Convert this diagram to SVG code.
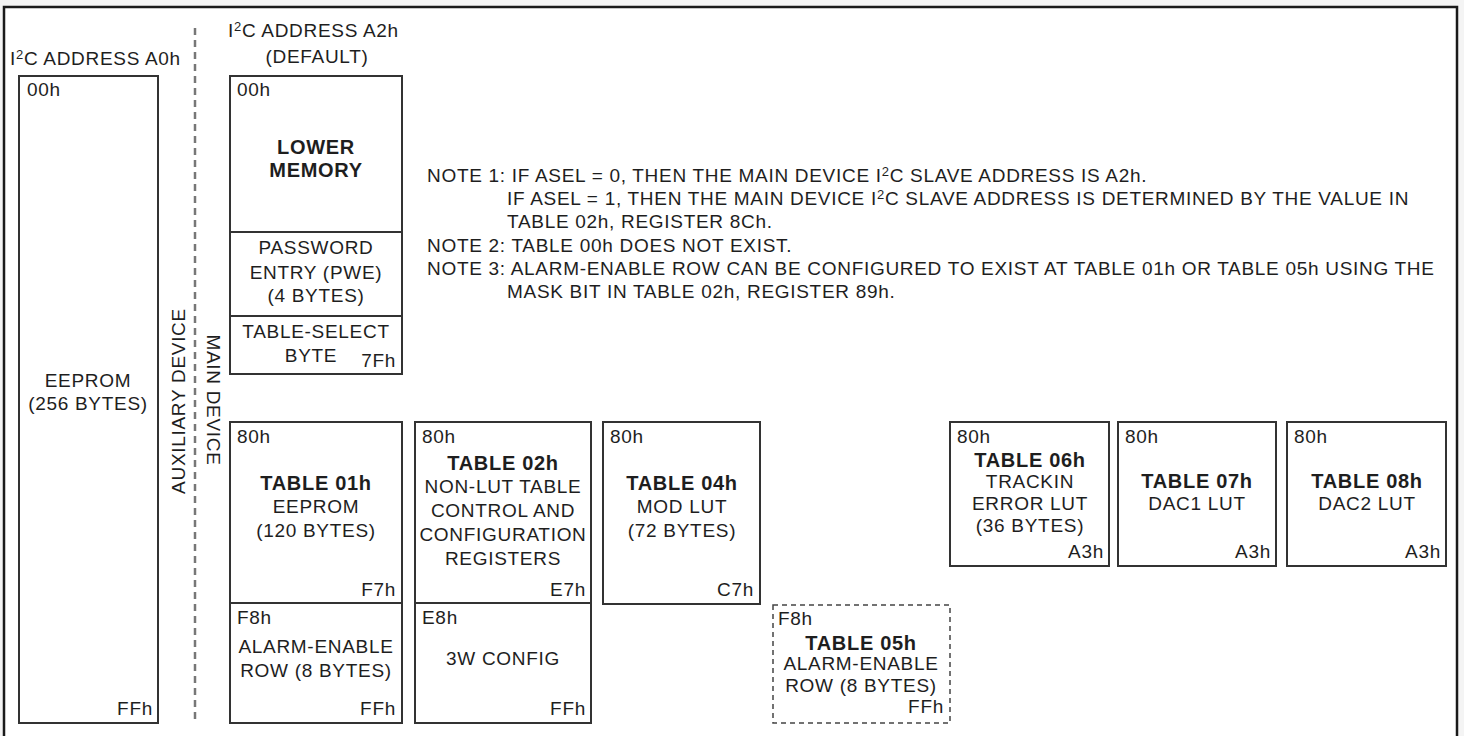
<svg xmlns="http://www.w3.org/2000/svg" width="1464" height="736" viewBox="0 0 1464 736">
<style>
text{font-family:"Liberation Sans",Arial,sans-serif;fill:#1e1e1e;font-size:19px;letter-spacing:0.7px}
.b{font-weight:bold;font-size:20px}
.m{text-anchor:middle}
.r{text-anchor:end}
.box{fill:#fff;stroke:#333;stroke-width:2}
.div{stroke:#333;stroke-width:2}
.sup{font-size:13px}
</style>
<rect x="0" y="0" width="1464" height="736" fill="#f4f4f4"/>
<rect x="4" y="7" width="1453" height="740" fill="#fff" stroke="#1a1a1a" stroke-width="2.5"/>

<g id="headers">
<text x="10" y="65">I<tspan class="sup" dy="-6">2</tspan><tspan dy="6">C ADDRESS A0h</tspan></text>
<text x="228" y="37">I<tspan class="sup" dy="-6">2</tspan><tspan dy="6">C ADDRESS A2h</tspan></text>
<text class="m" x="317" y="63">(DEFAULT)</text>
</g>

<g id="divider">
<line x1="195" y1="28" x2="195" y2="723" stroke="#777" stroke-width="2.5" stroke-dasharray="7 5"/>
<text class="m" transform="translate(185,401) rotate(-90)">AUXILIARY DEVICE</text>
<text class="m" transform="translate(207,400) rotate(90)">MAIN DEVICE</text>
</g>

<g id="eeprom-a0">
<rect class="box" x="19" y="76" width="139" height="647"/>
<text x="27" y="96">00h</text>
<text class="m" x="88" y="387">EEPROM</text>
<text class="m" x="88" y="410">(256 BYTES)</text>
<text class="r" x="153" y="715">FFh</text>
</g>

<g id="lower-memory">
<rect class="box" x="230" y="76" width="172" height="298"/>
<line class="div" x1="230" y1="232" x2="402" y2="232"/>
<line class="div" x1="230" y1="316" x2="402" y2="316"/>
<text x="237" y="96">00h</text>
<text class="m b" x="316" y="154">LOWER</text>
<text class="m b" x="316" y="177">MEMORY</text>
<text class="m" x="316" y="254">PASSWORD</text>
<text class="m" x="316" y="279">ENTRY (PWE)</text>
<text class="m" x="316" y="302">(4 BYTES)</text>
<text class="m" x="316" y="338">TABLE-SELECT</text>
<text class="m" x="311" y="362">BYTE</text>
<text class="r" x="396" y="367">7Fh</text>
</g>

<g id="table-01h">
<rect class="box" x="230" y="422" width="172" height="301"/>
<line class="div" x1="230" y1="603" x2="402" y2="603"/>
<text x="237" y="443">80h</text>
<text class="m b" x="316" y="490">TABLE 01h</text>
<text class="m" x="316" y="513">EEPROM</text>
<text class="m" x="316" y="537">(120 BYTES)</text>
<text class="r" x="396" y="596">F7h</text>
<text x="237" y="624">F8h</text>
<text class="m" x="316" y="653">ALARM-ENABLE</text>
<text class="m" x="316" y="677">ROW (8 BYTES)</text>
<text class="r" x="396" y="715">FFh</text>
</g>

<g id="table-02h">
<rect class="box" x="415" y="422" width="176" height="301"/>
<line class="div" x1="415" y1="603" x2="591" y2="603"/>
<text x="422" y="443">80h</text>
<text class="m b" x="503" y="470">TABLE 02h</text>
<text class="m" x="503" y="493">NON-LUT TABLE</text>
<text class="m" x="503" y="517">CONTROL AND</text>
<text class="m" x="503" y="541">CONFIGURATION</text>
<text class="m" x="503" y="565">REGISTERS</text>
<text class="r" x="586" y="596">E7h</text>
<text x="422" y="624">E8h</text>
<text class="m" x="503" y="665">3W CONFIG</text>
<text class="r" x="586" y="715">FFh</text>
</g>

<g id="table-04h">
<rect class="box" x="603" y="422" width="157" height="182"/>
<text x="610" y="443">80h</text>
<text class="m b" x="682" y="490">TABLE 04h</text>
<text class="m" x="682" y="513">MOD LUT</text>
<text class="m" x="682" y="537">(72 BYTES)</text>
<text class="r" x="754" y="596">C7h</text>
</g>

<g id="table-05h">
<rect x="773" y="605" width="177" height="118" fill="#fff" stroke="#444" stroke-width="1.5" stroke-dasharray="5 4"/>
<text x="778" y="625">F8h</text>
<text class="m b" x="861" y="650">TABLE 05h</text>
<text class="m" x="861" y="670">ALARM-ENABLE</text>
<text class="m" x="861" y="692">ROW (8 BYTES)</text>
<text class="r" x="944" y="713">FFh</text>
</g>

<g id="table-06h">
<rect class="box" x="950" y="422" width="159" height="144"/>
<text x="957" y="443">80h</text>
<text class="m b" x="1030" y="467">TABLE 06h</text>
<text class="m" x="1030" y="488">TRACKIN</text>
<text class="m" x="1030" y="510">ERROR LUT</text>
<text class="m" x="1030" y="532">(36 BYTES)</text>
<text class="r" x="1104" y="558">A3h</text>
</g>

<g id="table-07h">
<rect class="box" x="1118" y="422" width="158" height="144"/>
<text x="1125" y="443">80h</text>
<text class="m b" x="1197" y="488">TABLE 07h</text>
<text class="m" x="1197" y="510">DAC1 LUT</text>
<text class="r" x="1271" y="558">A3h</text>
</g>

<g id="table-08h">
<rect class="box" x="1287" y="422" width="159" height="144"/>
<text x="1294" y="443">80h</text>
<text class="m b" x="1367" y="488">TABLE 08h</text>
<text class="m" x="1367" y="510">DAC2 LUT</text>
<text class="r" x="1441" y="558">A3h</text>
</g>

<g id="notes">
<text x="427" y="182">NOTE 1: IF ASEL = 0, THEN THE MAIN DEVICE I<tspan class="sup" dy="-6">2</tspan><tspan dy="6">C SLAVE ADDRESS IS A2h.</tspan></text>
<text x="507" y="205">IF ASEL = 1, THEN THE MAIN DEVICE I<tspan class="sup" dy="-6">2</tspan><tspan dy="6">C SLAVE ADDRESS IS DETERMINED BY THE VALUE IN</tspan></text>
<text x="507" y="228">TABLE 02h, REGISTER 8Ch.</text>
<text x="427" y="252">NOTE 2: TABLE 00h DOES NOT EXIST.</text>
<text x="427" y="275">NOTE 3: ALARM-ENABLE ROW CAN BE CONFIGURED TO EXIST AT TABLE 01h OR TABLE 05h USING THE</text>
<text x="507" y="298">MASK BIT IN TABLE 02h, REGISTER 89h.</text>
</g>
<g id="connectors"></g>
</svg>
